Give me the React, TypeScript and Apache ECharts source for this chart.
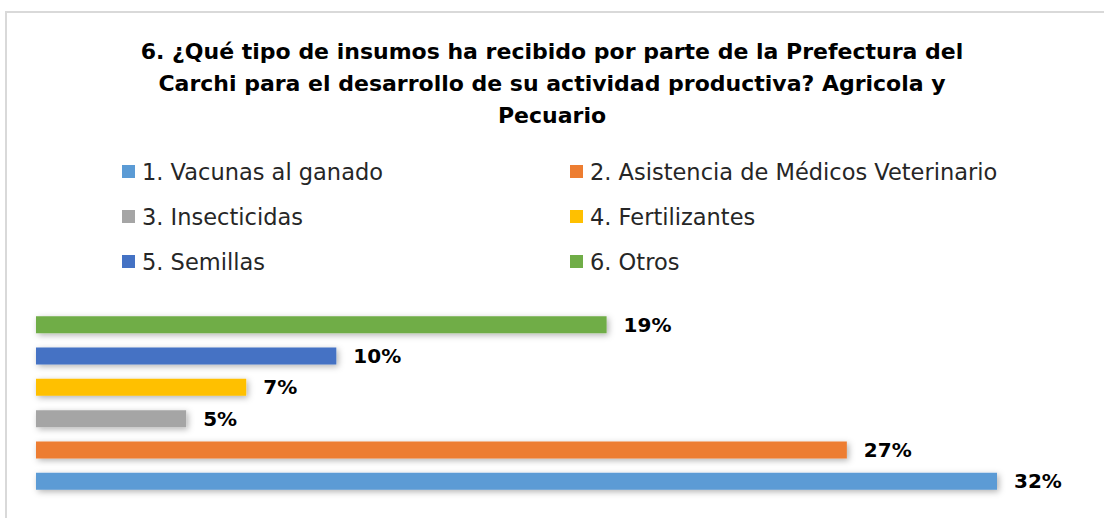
import React, { useEffect, useRef } from "react";
import * as echarts from "echarts";

const titleText =
  "6. ¿Qué tipo de insumos ha recibido por parte de la Prefectura del\nCarchi para el desarrollo de su actividad productiva? Agricola y\nPecuario";
const categories = [
  "1. Vacunas al ganado",
  "2. Asistencia de Médicos Veterinario",
  "3. Insecticidas",
  "4. Fertilizantes",
  "5. Semillas",
  "6. Otros",
];
const values = [32, 27, 5, 7, 10, 19];
const colors = ["#5B9BD5", "#ED7D31", "#A5A5A5", "#FFC000", "#4472C4", "#70AD47"];
const leftLegend = [categories[0], categories[2], categories[4]];
const rightLegend = [categories[1], categories[3], categories[5]];

const FONT = "'DejaVu Sans', 'Noto Sans', sans-serif";

export default function App() {
  const ref = useRef<HTMLDivElement>(null);
  useEffect(() => {
    if (!ref.current) return;
    const chart = echarts.init(ref.current, null, { renderer: "svg" });
    const legendCommon = {
      orient: "vertical" as const,
      top: 160,
      padding: 0,
      itemWidth: 13,
      itemHeight: 13,
      itemGap: 22,
      icon: "rect",
      textStyle: { fontFamily: FONT, fontSize: 22.5, color: "#262626", lineHeight: 23, padding: [0, 0, 0, 2] },
    };
    const series = categories.map((name, i) => ({
      type: "bar" as const,
      name,
      stack: "all",
      barWidth: 17,
      data: categories.map((_, j) => (j === i ? values[i] : null)),
      itemStyle: {
        color: colors[i],
        shadowBlur: 6,
        shadowColor: "rgba(0,0,0,0.3)",
        shadowOffsetX: 2,
        shadowOffsetY: 2,
      },
      label: {
        show: true,
        position: "right" as const,
        distance: 17,
        formatter: (p: any) => (p.value == null ? "" : p.value + "%"),
        fontFamily: FONT,
        fontWeight: "bold" as const,
        fontSize: 20,
        color: "#000",
      },
    }));
    chart.setOption({
      animation: false,
      backgroundColor: "#fff",
      title: {
        text: titleText,
        left: "center",
        top: 35,
        padding: 0,
        textStyle: {
          fontFamily: FONT,
          fontWeight: "bold",
          fontSize: 22,
          lineHeight: 32,
          color: "#000",
        },
      },
      legend: [
        { ...legendCommon, left: 122, data: leftLegend },
        { ...legendCommon, left: 570, data: rightLegend },
      ],
      grid: { left: 36, right: 107, top: 309, bottom: 21 },
      xAxis: { type: "value", min: 0, max: 32, show: false },
      yAxis: { type: "category", data: categories, show: false },
      series,
      graphic: [
        {
          type: "rect",
          shape: { x: 6, y: 12, width: 1120, height: 530 },
          style: { fill: "none", stroke: "#D9D9D9", lineWidth: 2 },
          silent: true,
        },
      ],
    });
    return () => chart.dispose();
  }, []);
  return (
    <div
      ref={ref}
      style={{ position: "fixed", left: 0, top: 0, width: 1104, height: 518, background: "#fff" }}
    />
  );
}
